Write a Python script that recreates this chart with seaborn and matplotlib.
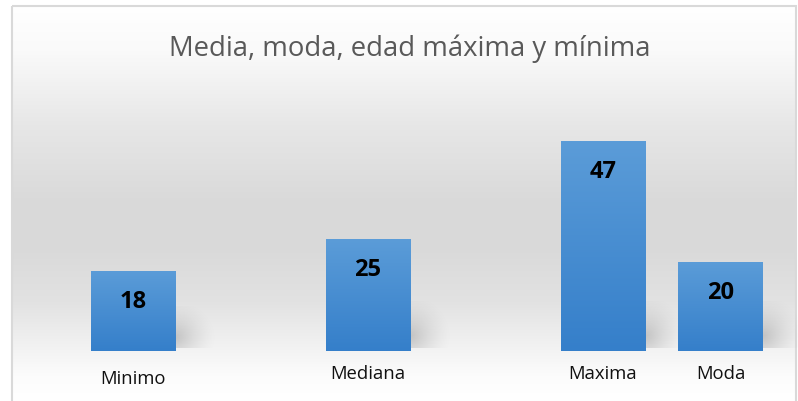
import numpy as np
import pandas as pd
import matplotlib
matplotlib.use("Agg")
import matplotlib.pyplot as plt
import seaborn as sns
from matplotlib.patches import Rectangle

categories = ["Minimo", "Mediana", "Maxima", "Moda"]
values = [18, 25, 47, 20]
slot_order = ["Minimo", " ", "Mediana", "  ", "Maxima", "Moda"]
title = "Media, moda, edad máxima y mínima"

sns.set_theme(style="white")
plt.rcParams['font.family'] = ['Open Sans', 'DejaVu Sans']

W, H = 798, 401
fig = plt.figure(figsize=(W / 100, H / 100), dpi=100)

# background gradient
bg = fig.add_axes([0, 0, 1, 1])
bg.set_xlim(0, W)
bg.set_ylim(H, 0)
bg.axis("off")
ys = np.array([0, 7, 45, 120, 200, 250, 300, 340, 375, 401])
gs = np.array([255, 254, 250, 231, 217, 218, 226, 240, 252, 255])
yy = np.arange(H)
col = np.interp(yy, ys, gs) / 255.0
img = np.repeat(col[:, None], 2, axis=1)
img = np.dstack([img, img, img])
bg.imshow(img, extent=[12, W - 2, H, 6], aspect="auto", zorder=0)
bg.add_patch(Rectangle((12, 6), W - 14, H + 10, fill=False, edgecolor="#d9d9d9", linewidth=1.5, zorder=1))

# main axes
x0_px, slot_px = 133.0, 117.5
base_px = 351.0
px_per_unit = 210.0 / 47
ax_bottom = (H - base_px) / H
ax_top_px = 100.0
ax_h = (base_px - ax_top_px) / H
ax = fig.add_axes([0, ax_bottom, 1, ax_h])
ax.patch.set_alpha(0)

df = pd.DataFrame({"cat": categories, "val": values})
sns.barplot(data=df, x="cat", y="val", order=slot_order, color="#4a8fd2",
            width=0.715, ax=ax, saturation=1)

ax.set_xlim(-x0_px / slot_px, (W - x0_px) / slot_px)
ax.set_ylim(0, (base_px - ax_top_px) / px_per_unit)
for s in ax.spines.values():
    s.set_visible(False)
ax.set_yticks([])
ax.set_xlabel("")
ax.set_ylabel("")
ax.tick_params(axis="x", length=0, pad=10, labelsize=13.3, labelcolor="#111111")

# gradient fill + shadows for bars
grad = np.linspace(0, 1, 100)[:, None]
top = np.array([0x5b, 0x9c, 0xd8]) / 255
bot = np.array([0x35, 0x7f, 0xca]) / 255
gimg = top[None, None, :] * (1 - grad[:, :, None]) + bot[None, None, :] * grad[:, :, None]
for p in ax.patches:
    h = p.get_height()
    if not np.isfinite(h) or h <= 0:
        continue
    x, w = p.get_x(), p.get_width()
    sh_w, sh_h = 0.35, min(h * 0.55, 11)
    xs = np.linspace(0, 1, 60)
    yv = np.linspace(0, 1, 40)
    X, Y = np.meshgrid(xs, yv)
    a = np.clip(1 - np.sqrt((X) ** 2 + ((Y - 0.25) / 0.9) ** 2), 0, 1) ** 1.5 * 0.35
    shadow = np.zeros((40, 60, 4))
    shadow[..., :3] = 0.45
    shadow[..., 3] = a
    ax.imshow(shadow, extent=[x + w, x + w + sh_w, 0.6, sh_h], origin="lower",
              aspect="auto", zorder=1, interpolation="bilinear")
    im = ax.imshow(gimg, extent=[x, x + w, 0, h], aspect="auto", zorder=2, origin="upper")
    im.set_clip_path(p)
    p.set_facecolor("none")
    p.set_edgecolor("none")
    ax.text(x + w / 2, h - 31 / px_per_unit, f"{h:g}", ha="center", va="center",
            fontsize=17, fontweight="bold", color="black", zorder=3)

ax.set_aspect("auto")
ax.set_xlim(-x0_px / slot_px, (W - x0_px) / slot_px)
ax.set_ylim(0, (base_px - ax_top_px) / px_per_unit)

for t in ax.get_xticklabels():
    if t.get_text() == "Minimo":
        t.set_y(-0.022)

fig.text(0.5135, 1 - 49 / H, title, ha="center", va="center", fontsize=19.8,
         color="#595959", fontweight="normal")

fig.savefig("out.png", dpi=100)
